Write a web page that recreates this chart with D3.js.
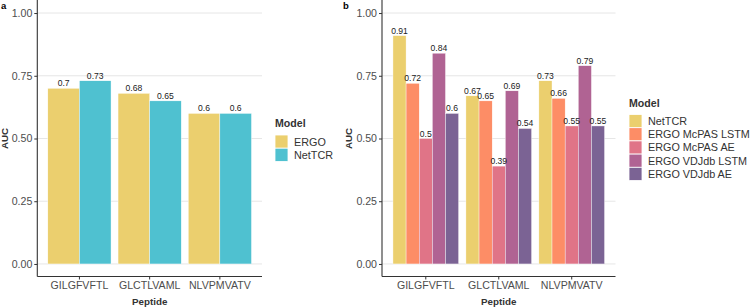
<!DOCTYPE html>
<html lang="en">
<head>
<meta charset="UTF-8" />
<title>AUC by peptide</title>
<script src="https://cdn.jsdelivr.net/npm/d3@7"></script>
<style>
  body { margin: 0; background: #fff; }
  svg { display: block; font-family: "Liberation Sans", Arial, sans-serif; }
</style>
</head>
<body>
<svg width="750" height="308"></svg>
<script>
  // data
  const peptides = ["GILGFVFTL", "GLCTLVAML", "NLVPMVATV"];
  const yTicks = [0, 0.25, 0.5, 0.75, 1];

  const modelsA = ["ERGO", "NetTCR"];
  const ergoA = [0.7, 0.68, 0.6];
  const nettcrA = [0.73, 0.65, 0.6];
  const colorsA = ["#ebcf6e", "#4fc1d0"];

  const modelsB = ["NetTCR", "ERGO McPAS LSTM", "ERGO McPAS AE", "ERGO VDJdb LSTM", "ERGO VDJdb AE"];
  const nettcrB = [0.91, 0.67, 0.73];
  const mcpasLstm = [0.72, 0.65, 0.66];
  const mcpasAe = [0.5, 0.39, 0.55];
  const vdjdbLstm = [0.84, 0.69, 0.79];
  const vdjdbAe = [0.6, 0.54, 0.55];
  const colorsB = ["#ebcf6e", "#fd8d66", "#e07487", "#b06393", "#7b6394"];

  const svg = d3.select("svg");

  function panel(opt) {
    const g = svg.append("g");
    const y = d3.scaleLinear().domain([-0.05, 1.05]).range([276.5, 0.5]);
    const x = d3.scaleBand().domain(peptides).range([opt.x0, opt.x1])
      .paddingInner(0.1).paddingOuter(0.15);
    const xs = d3.scaleBand().domain(opt.models).range([0, x.bandwidth()]);
    const color = d3.scaleOrdinal().domain(opt.models).range(opt.colors);

    // gridlines
    g.append("g").selectAll("line").data(yTicks).join("line")
      .attr("x1", opt.x0).attr("x2", opt.x1)
      .attr("y1", d => y(d)).attr("y2", d => y(d))
      .attr("stroke", "#e6e6e6").attr("stroke-width", 1);

    const rows = [];
    opt.models.forEach((m, i) => {
      opt.series[i].forEach((v, j) => rows.push({ model: m, pep: peptides[j], v }));
    });

    g.append("g").selectAll("rect").data(rows).join("rect")
      .attr("x", d => x(d.pep) + xs(d.model))
      .attr("width", xs.bandwidth())
      .attr("y", d => y(d.v))
      .attr("height", d => y(0) - y(d.v))
      .attr("fill", d => color(d.model))
      .attr("stroke", "#fff").attr("stroke-width", 0.4);

    g.append("g").selectAll("text").data(rows).join("text")
      .attr("x", d => x(d.pep) + xs(d.model) + xs.bandwidth() / 2)
      .attr("y", d => y(d.v) - 2)
      .attr("text-anchor", "middle")
      .attr("font-size", 8.6).attr("fill", "#222")
      .text(d => String(d.v));

    // axes
    const yAxis = g.append("g").attr("transform", `translate(${opt.x0},0)`)
      .call(d3.axisLeft(y).tickValues(yTicks).tickFormat(d3.format(".2f")).tickSize(3).tickPadding(2));
    const xAxis = g.append("g").attr("transform", `translate(0,${y.range()[0]})`)
      .call(d3.axisBottom(x).tickSize(3).tickPadding(2));
    [yAxis, xAxis].forEach(a => {
      a.select(".domain").attr("stroke", "#333").attr("stroke-width", 1.1);
      a.selectAll(".tick line").attr("stroke", "#333");
      a.selectAll(".tick text").attr("fill", "#4d4d4d").attr("font-size", 10.6)
        .attr("font-family", "Liberation Sans, Arial, sans-serif");
    });
    yAxis.select(".domain").attr("d", `M0,${y.range()[1] - 0.5}V${y.range()[0]}`);
    xAxis.select(".domain").attr("d", `M${opt.x0},0H${opt.x1}`);

    g.append("text").attr("x", (opt.x0 + opt.x1) / 2).attr("y", 305)
      .attr("text-anchor", "middle").attr("font-size", 9.8).attr("font-weight", "bold")
      .attr("fill", "#333").text("Peptide");
    g.append("text")
      .attr("transform", `translate(${opt.yTitleX},${y(0.5)}) rotate(-90)`)
      .attr("text-anchor", "middle").attr("font-size", 9.8).attr("font-weight", "bold")
      .attr("fill", "#333").text("AUC");
    g.append("text").attr("x", opt.tagX).attr("y", 9)
      .attr("font-size", 9.5).attr("font-weight", "bold").text(opt.tag);

    // legend
    const lg = g.append("g").attr("transform", `translate(${opt.legX},${opt.legY})`);
    lg.append("text").attr("x", 0).attr("y", 0).attr("font-size", 10.6)
      .attr("font-weight", "bold").attr("fill", "#333").text("Model");
    const item = lg.selectAll("g.item").data(opt.models).join("g").attr("class", "item")
      .attr("transform", (d, i) => `translate(0,${8 + i * 13.2})`);
    item.append("rect").attr("width", 13).attr("height", 13.2)
      .attr("fill", d => color(d)).attr("stroke", "#fff").attr("stroke-width", 0.8);
    item.append("text").attr("x", 19).attr("y", 10.5).attr("font-size", 10.8)
      .attr("fill", "#333").text(d => d);
  }

  panel({
    x0: 37.3, x1: 262, models: modelsA, colors: colorsA,
    series: [ergoA, nettcrA], tag: "a", tagX: 1, yTitleX: 8,
    legX: 275, legY: 127
  });
  panel({
    x0: 382, x1: 615.5, models: modelsB, colors: colorsB,
    series: [nettcrB, mcpasLstm, mcpasAe, vdjdbLstm, vdjdbAe], tag: "b", tagX: 343, yTitleX: 352,
    legX: 629, legY: 106.5
  });
</script>
</body>
</html>
